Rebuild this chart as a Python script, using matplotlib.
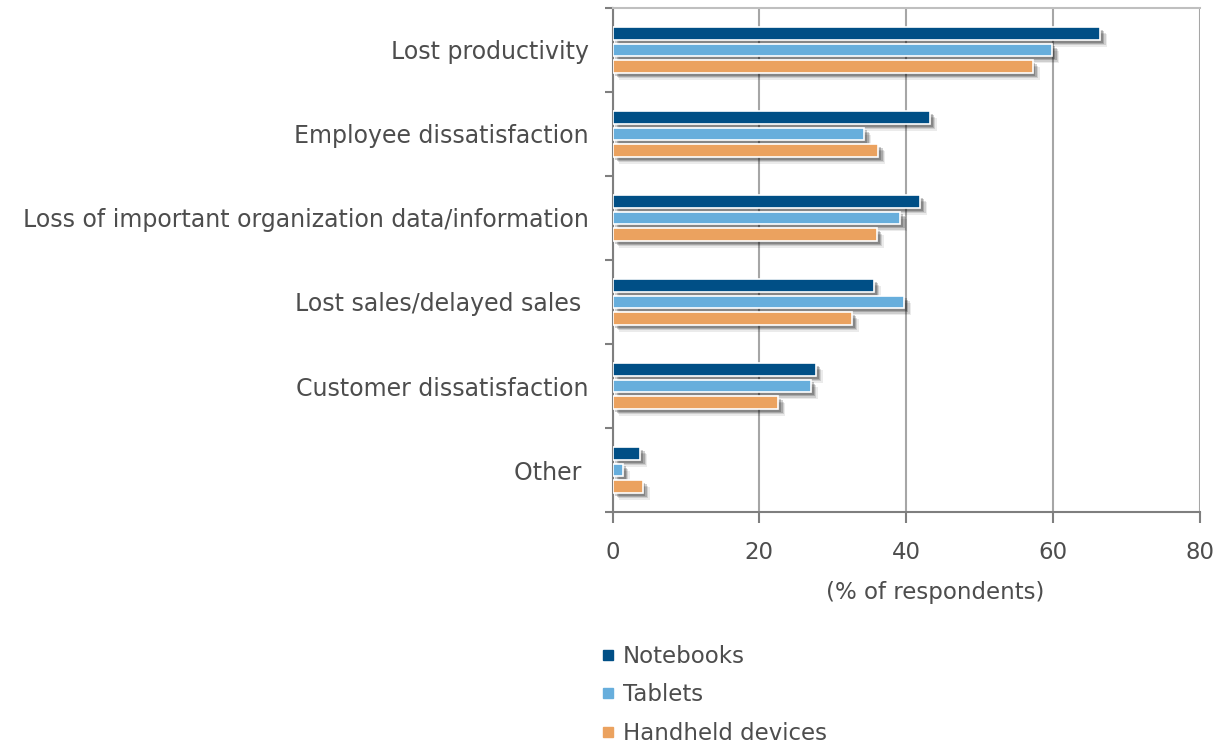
import matplotlib
matplotlib.use("Agg")
import matplotlib.pyplot as plt
import matplotlib.patheffects as pe
from matplotlib.lines import Line2D
import numpy as np

categories = [
    "Lost productivity",
    "Employee dissatisfaction",
    "Loss of important organization data/information",
    "Lost sales/delayed sales ",
    "Customer dissatisfaction",
    "Other ",
]
series_names = ["Notebooks", "Tablets", "Handheld devices"]
notebooks = [66.4, 43.2, 41.9, 35.6, 27.7, 3.8]
tablets = [59.9, 34.3, 39.2, 39.7, 27.0, 1.4]
handheld = [57.2, 36.2, 36.0, 32.6, 22.6, 4.1]
x_ticks = [0, 20, 40, 60, 80]
x_label = "(% of respondents)"

colors = ["#004F86", "#67AEDC", "#EBA25F"]
text_color = "#4D4D4D"
axis_color = "#7F7F7F"

plt.rcParams["font.family"] = ["DejaVu Sans"]

fig = plt.figure(figsize=(12.23, 7.49), dpi=100)
ax = fig.add_axes([612.5 / 1223, 1 - 512 / 749, (1200 - 612.5) / 1223, (512 - 8) / 749])

n = len(categories)
centers = np.arange(n) + 0.5
step = 0.197
height = 0.15

# soft drop shadow built from a few stacked offsets
shadow = [
    pe.SimplePatchShadow(offset=(5, -5), shadow_rgbFace="#000000", alpha=0.08),
    pe.SimplePatchShadow(offset=(4, -4), shadow_rgbFace="#000000", alpha=0.12),
    pe.SimplePatchShadow(offset=(3, -3), shadow_rgbFace="#000000", alpha=0.18),
    pe.SimplePatchShadow(offset=(2, -2), shadow_rgbFace="#000000", alpha=0.2),
    pe.Normal(),
]

for i, (vals, col) in enumerate(zip([notebooks, tablets, handheld], colors)):
    ypos = centers + (i - 1) * step
    bars = ax.barh(ypos, vals, height=height, color=col, edgecolor="white",
                   linewidth=1.2, zorder=3)
    for b in bars:
        b.set_path_effects(shadow)

ax.set_xlim(0, 80)
ax.set_ylim(n, 0)

ax.set_xticks(x_ticks)
ax.set_xticklabels([str(t) for t in x_ticks])
ax.xaxis.grid(True, color="#A6A6A6", linewidth=1.5, zorder=0)
ax.set_axisbelow(True)

ax.set_yticks(np.arange(n + 1))
ax.set_yticklabels([])
ax.set_yticks(centers, minor=True)
ax.set_yticklabels(categories, minor=True)
ax.tick_params(axis="y", which="major", direction="out", length=6, width=1.5, color=axis_color)
ax.tick_params(axis="y", which="minor", length=0, pad=17, labelsize=17, labelcolor=text_color)
ax.tick_params(axis="x", direction="out", length=8, width=1.5, color=axis_color,
               labelsize=16.5, labelcolor=text_color, pad=13)

for side in ["left", "bottom"]:
    ax.spines[side].set_color(axis_color)
    ax.spines[side].set_linewidth(1.5)
ax.spines["top"].set_color("#BFBFBF")
ax.spines["top"].set_linewidth(1.5)
ax.spines["right"].set_visible(False)

fig.text(935 / 1223, 1 - 592 / 749, x_label, ha="center", va="center",
         fontsize=16.5, color=text_color)

handles = [Line2D([0], [0], marker="s", linestyle="none", markersize=7,
                  markerfacecolor=c, markeredgecolor=c) for c in colors]
fig.legend(handles, series_names, loc="upper left",
           bbox_to_anchor=(579 / 1223, 1 - 624 / 749), frameon=False,
           fontsize=16.5, labelcolor=text_color, handletextpad=0.3,
           labelspacing=0.68, handlelength=0.7)

fig.savefig("out.png", dpi=100, facecolor="white")
